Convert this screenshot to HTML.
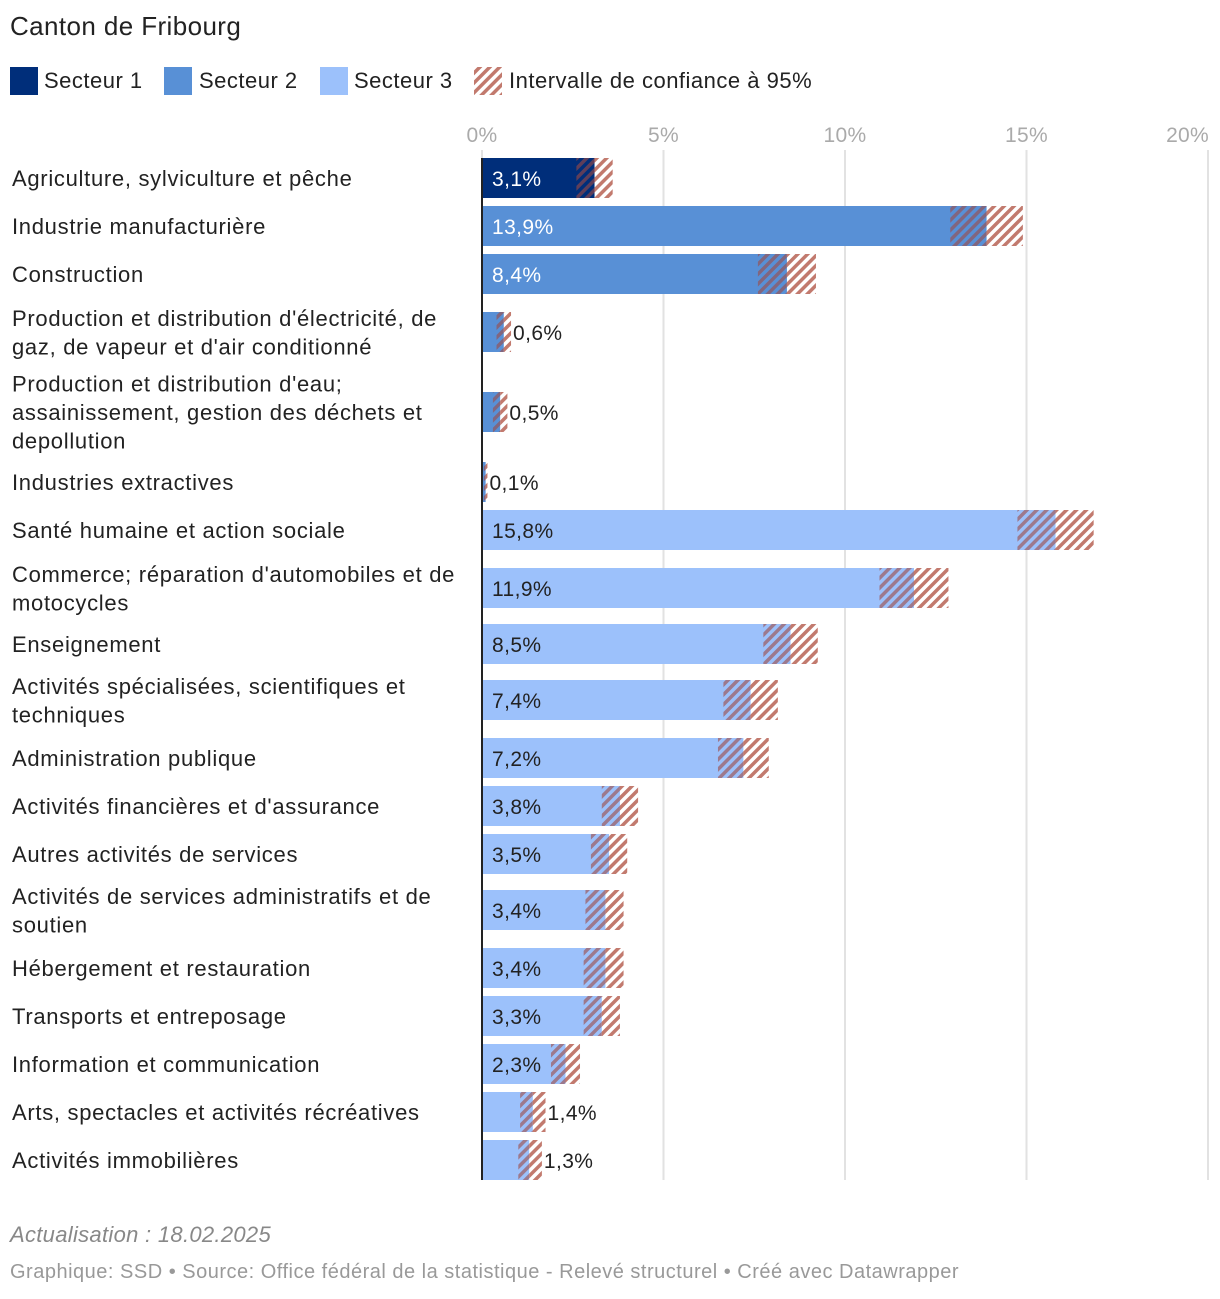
<!DOCTYPE html>
<html><head><meta charset="utf-8">
<style>
body{margin:0;background:#fff;font-family:"Liberation Sans",sans-serif;}
svg text{font-family:"Liberation Sans",sans-serif;}
</style></head>
<body>
<svg id="chart" width="1220" height="1294" xmlns="http://www.w3.org/2000/svg">
<defs>
<pattern id="hatch" patternUnits="userSpaceOnUse" width="7" height="7" patternTransform="rotate(45)">
<rect x="0" y="0" width="3.5" height="7" fill="#c27a6e"/>
</pattern>
<pattern id="hatchDark" patternUnits="userSpaceOnUse" width="7" height="7" patternTransform="rotate(45)">
<rect x="0" y="0" width="3.5" height="7" fill="#9c4a44" fill-opacity="0.6"/>
</pattern>
</defs>
<text x="10" y="35" font-size="26" letter-spacing="0.4" fill="#222">Canton de Fribourg</text>
<g letter-spacing="0.5">
<rect x="10" y="67" width="28" height="28" fill="#002e7a"/>
<text x="44" y="88" font-size="22" fill="#222">Secteur 1</text>
<rect x="164" y="67" width="28" height="28" fill="#5890d6"/>
<text x="199" y="88" font-size="22" fill="#222">Secteur 2</text>
<rect x="320" y="67" width="28" height="28" fill="#9cc1fb"/>
<text x="354" y="88" font-size="22" fill="#222">Secteur 3</text>
<rect x="474" y="67" width="28" height="28" fill="url(#hatch)"/>
<text x="509" y="88" font-size="22" fill="#222">Intervalle de confiance à 95%</text>
</g>
<g id="plot"></g>
<text x="10" y="1242" font-size="22" font-style="italic" letter-spacing="0.3" fill="#888">Actualisation : 18.02.2025</text>
<text x="10" y="1278" font-size="20" letter-spacing="0.5" fill="#999">Graphique: SSD • Source: Office fédéral de la statistique - Relevé structurel • Créé avec Datawrapper</text>
</svg>
<script>
const categories=[["Agriculture, sylviculture et pêche"],["Industrie manufacturière"],["Construction"],["Production et distribution d'électricité, de","gaz, de vapeur et d'air conditionné"],["Production et distribution d'eau;","assainissement, gestion des déchets et","depollution"],["Industries extractives"],["Santé humaine et action sociale"],["Commerce; réparation d'automobiles et de","motocycles"],["Enseignement"],["Activités spécialisées, scientifiques et","techniques"],["Administration publique"],["Activités financières et d'assurance"],["Autres activités de services"],["Activités de services administratifs et de","soutien"],["Hébergement et restauration"],["Transports et entreposage"],["Information et communication"],["Arts, spectacles et activités récréatives"],["Activités immobilières"]];
const sectors=[1,2,2,2,2,2,3,3,3,3,3,3,3,3,3,3,3,3,3];
const values=[3.1,13.9,8.4,0.6,0.5,0.1,15.8,11.9,8.5,7.4,7.2,3.8,3.5,3.4,3.4,3.3,2.3,1.4,1.3];
const ciLow=[2.6,12.9,7.6,0.4,0.3,0.05,14.75,10.95,7.75,6.65,6.5,3.3,3.0,2.85,2.8,2.8,1.9,1.05,1.0];
const ciHigh=[3.6,14.9,9.2,0.8,0.7,0.15,16.85,12.85,9.25,8.15,7.9,4.3,4.0,3.9,3.9,3.8,2.7,1.75,1.65];
const tickValues=[0,5,10,15,20];
const tickLabels=["0%","5%","10%","15%","20%"];
const barTops=[158,206,254,312,392,462,510,568,624,680,738,786,834,890,948,996,1044,1092,1140];
const colors={1:"#002e7a",2:"#5890d6",3:"#9cc1fb"};
const x0=482,pxPer=36.3,barH=40;
const xs=v=>x0+v*pxPer;
const ns="http://www.w3.org/2000/svg";
const g=document.getElementById('plot');
function mk(tag,attrs){const e=document.createElementNS(ns,tag);for(const k in attrs)e.setAttribute(k,attrs[k]);g.appendChild(e);return e;}
tickValues.forEach((t,i)=>{
 const l=mk('line',{x1:xs(t),x2:xs(t),y1:150,y2:1180,stroke:'#e2e2e2','stroke-width':2});
 
 
 const last=i==tickValues.length-1;
 const tx=mk('text',{x:last?xs(t)+1:xs(t),y:142,'font-size':21,fill:'#aaa','text-anchor':last?'end':'middle','letter-spacing':0.3});
 tx.textContent=tickLabels[i];
 
 
});
categories.forEach((lines,i)=>{
 const top=barTops[i],cy=top+barH/2;
 const n=lines.length,lh=28.5;
 lines.forEach((s,j)=>{
  const t=mk('text',{x:12,y:cy+8+(j-(n-1)/2)*lh,'font-size':22,fill:'#222','letter-spacing':0.7});
  t.textContent=s;
  
  
 });
 const b=mk('rect',{x:x0,y:top,width:xs(values[i])-x0,height:barH,fill:colors[sectors[i]]});
 
 
 const lo=xs(ciLow[i]),v=xs(values[i]),hi=xs(ciHigh[i]);
 const c1=mk('rect',{x:lo,y:top,width:v-lo,height:barH,fill:'url(#hatchDark)'});
 
 
 const c2=mk('rect',{x:v,y:top,width:hi-v,height:barH,fill:'url(#hatch)'});
 
 
 const lab=values[i].toFixed(1).replace('.',',')+'%';
 const inside=values[i]>=2;
 const t=mk('text',{x:inside?x0+10:hi+2,y:cy+8,'font-size':21,fill:(inside&&sectors[i]<3)?'#fff':'#222','letter-spacing':0.4});
 t.textContent=lab;
 
 
});
const ax=mk('line',{x1:x0,x2:x0,y1:158,y2:1180,stroke:'#222','stroke-width':2});


</script>
</body></html>
